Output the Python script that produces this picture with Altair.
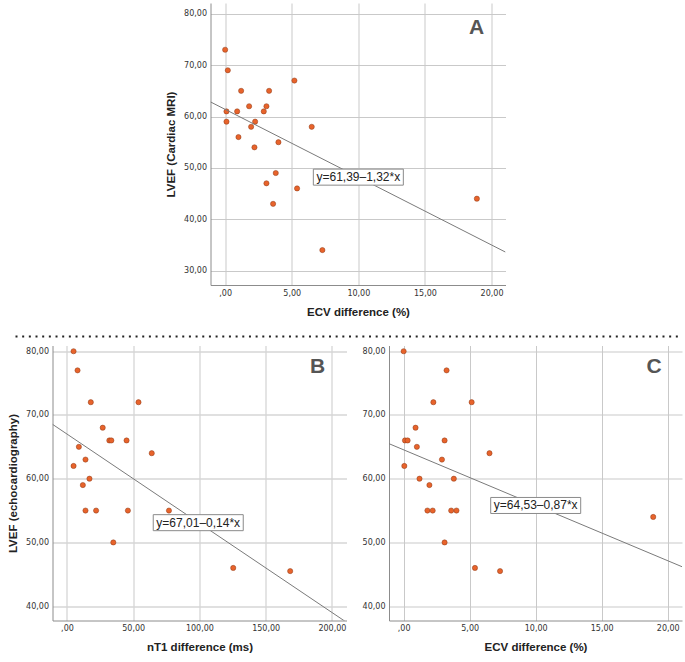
import altair as alt
import pandas as pd

# --- Panel A: ECV difference vs LVEF (cardiac MRI) ---
ecv_a = [0.0, 0.2, 1.2, 3.3, 5.2, 1.8, 3.1, 0.1, 0.9, 2.9, 0.1, 2.25, 1.95, 6.5,
         1.0, 4.0, 2.2, 3.8, 3.1, 5.4, 3.6, 18.9, 7.3]
lvef_mri = [73, 69, 65, 65, 67, 62, 62, 61, 61, 61, 59, 59, 58, 58,
            56, 55, 54, 49, 47, 46, 43, 44, 34]
fit_a = (61.39, -1.32)

# --- Panel B: nT1 difference vs LVEF (echocardiography) ---
nt1_b = [5, 8, 18, 54, 27, 32, 33.5, 45, 9, 64, 14, 5, 17, 12,
         14, 22, 46, 77, 35, 125.5, 168.5]
lvef_echo_b = [80, 77, 72, 72, 68, 66, 66, 66, 65, 64, 63, 62, 60, 59,
               55, 55, 55, 55, 50, 46, 45.5]
fit_b = (67.01, -0.14)

# --- Panel C: ECV difference vs LVEF (echocardiography) ---
ecv_c = [0.0, 3.25, 2.25, 5.15, 0.9, 0.1, 0.3, 3.1, 1.0, 6.5, 2.9, 0.05, 1.2, 3.8,
         1.95, 1.8, 2.2, 3.6, 4.0, 18.9, 3.1, 5.4, 7.3]
lvef_echo_c = [80, 77, 72, 72, 68, 66, 66, 66, 65, 64, 63, 62, 60, 60,
               59, 55, 55, 55, 55, 54, 50, 46, 45.5]
fit_c = (64.53, -0.87)

# tick values
ecv_ticks = [0, 5, 10, 15, 20]
nt1_ticks = [0, 50, 100, 150, 200]
mri_ticks = [30, 40, 50, 60, 70, 80]
echo_ticks = [40, 50, 60, 70, 80]

# comma decimal labels, zero shown as ",00"
FMT = "datum.value == 0 ? ',00' : replace(format(datum.value, '.2f'), '.', ',')"
BOX = "M-1,-0.178L1,-0.178L1,0.178L-1,0.178Z"
ORANGE = "#e8632b"


def equation(fit):
    b0, b1 = fit
    sign = "–" if b1 < 0 else "+"
    return f"y={b0:.2f}{sign}{abs(b1):.2f}*x".replace(".", ",")


def panel(xs, ys, xdom, ydom, xticks, yticks, xtitle, ytitle, fit, eq_xy,
          letter, letter_xy, width, height, grid_color, grid_width):
    xsc = alt.Scale(domain=xdom, nice=False, zero=False)
    ysc = alt.Scale(domain=ydom, nice=False, zero=False)
    ax_common = dict(labelExpr=FMT, grid=True, gridColor=grid_color,
                     gridWidth=grid_width)
    xaxis = alt.Axis(values=xticks, title=xtitle, **ax_common)
    yaxis = alt.Axis(values=yticks, title=ytitle if ytitle else "", **ax_common)

    pts = pd.DataFrame({"x": xs, "y": ys})
    points = alt.Chart(pts).mark_point(
        filled=True, shape="circle", size=27, fill=ORANGE,
        stroke="#8a3a18", strokeWidth=0.5, opacity=1
    )

    b0, b1 = fit
    line_df = pd.DataFrame({"x": xdom, "y": [b0 + b1 * v for v in xdom]})
    line = alt.Chart(line_df).mark_line(clip=True, color="#7a7a7a", strokeWidth=1)

    eq_df = pd.DataFrame({"x": [eq_xy[0]], "y": [eq_xy[1]], "t": [equation(fit)]})
    box = alt.Chart(eq_df).mark_point(
        shape=BOX, size=8100, filled=True, fill="white", stroke="#8a8a8a",
        strokeWidth=1, opacity=1
    )
    eq_text = alt.Chart(eq_df).mark_text(
        font="Liberation Sans", fontSize=12, color="#222222"
    ).encode(text="t:N")

    tag_df = pd.DataFrame({"t": [letter]})
    tag = alt.Chart(tag_df).mark_text(
        font="Liberation Sans", fontSize=21, fontWeight="bold", color="#555555"
    ).encode(x=alt.value(letter_xy[0]), y=alt.value(letter_xy[1]), text="t:N")

    return alt.layer(points, line, box, eq_text, tag).encode(
        x=alt.X("x:Q", scale=xsc, axis=xaxis),
        y=alt.Y("y:Q", scale=ysc, axis=yaxis),
    ).properties(width=width, height=height)


panel_a = panel(ecv_a, lvef_mri, [-1.1, 21.05], [27.2, 82.1], ecv_ticks, mri_ticks,
                "ECV difference (%)", "LVEF (Cardiac MRI)", fit_a, (10.0, 48.2),
                "A", (266, 25), 295, 282, "#c9c9c9", 1)
panel_b = panel(nt1_b, lvef_echo_b, [-10.9, 211.0], [37.75, 80.9], nt1_ticks, echo_ticks,
                "nT1 difference (ms)", "LVEF (echocardiography)", fit_b, (99.1, 53.1),
                "B", (265, 21), 294, 275, "#d6d6d6", 1.3)
panel_c = panel(ecv_c, lvef_echo_c, [-1.11, 21.08], [37.75, 80.9], ecv_ticks, echo_ticks,
                "ECV difference (%)", None, fit_c, (10.0, 55.8),
                "C", (265, 21), 293, 275, "#c9c9c9", 1)

one = pd.DataFrame({"v": [0]})
# empty block that pushes panel A to the right
spacer = alt.Chart(one).mark_point(opacity=0).encode(
    x=alt.X("v:Q", axis=None), y=alt.Y("v:Q", axis=None)
).properties(width=113, height=10)

# dotted divider between the top and bottom rows
separator = alt.Chart(one).mark_rule(
    strokeDash=[2, 4.67], strokeWidth=2, color="#222222", strokeCap="butt"
).encode(
    x=alt.value(-37), x2=alt.value(628), y=alt.value(1)
).properties(width=628, height=2)

top_row = alt.hconcat(spacer, panel_a, spacing=0)
bottom_row = alt.hconcat(panel_b, panel_c, spacing=15.5)

chart = alt.vconcat(
    top_row,
    alt.vconcat(separator, bottom_row, spacing=8),
    spacing=17.5,
).properties(
    padding={"left": 7.5, "top": 3, "right": 1, "bottom": 1},
    background="white",
).configure_view(
    stroke=None
).configure_axis(
    domainColor="#8c8c8c",
    domainWidth=1,
    ticks=False,
    labelFont="DejaVu Sans",
    labelFontSize=8,
    labelColor="#333333",
    labelPadding=4,
    titleFont="Liberation Sans",
    titleFontSize=11.5,
    titleFontWeight="bold",
    titleColor="#222222",
).configure_axisX(
    titlePadding=9
).configure_axisY(
    titlePadding=7
)

chart.save("out.html", embed_options={"renderer": "svg", "actions": False})
